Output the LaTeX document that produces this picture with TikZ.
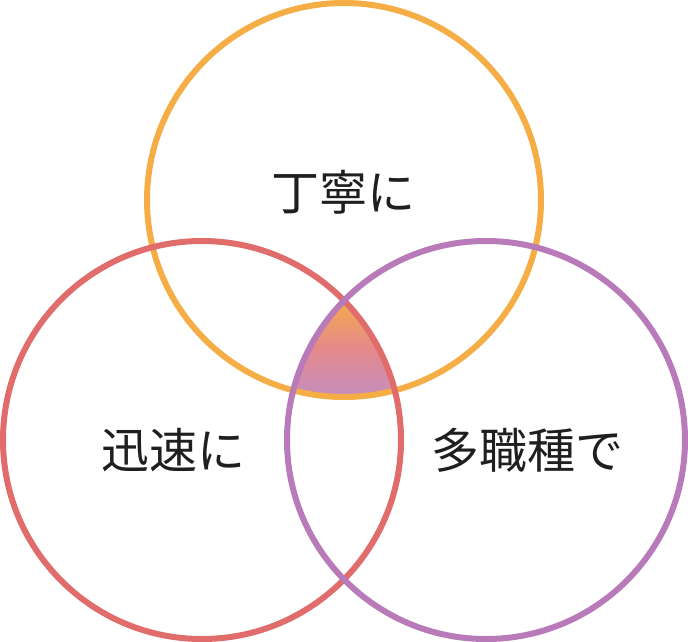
\documentclass[tikz,border=0pt]{standalone}
\usepackage{fontspec}
\newfontfamily\cjk{Noto Sans CJK JP}
\definecolor{corange}{HTML}{F5AE45}
\definecolor{cred}{HTML}{E06C6C}
\definecolor{cpurple}{HTML}{B87AB8}
\begin{document}
\begin{tikzpicture}[x=1pt,y=-1pt,
  ring/.style={line width=6pt},
  lbl/.style={font=\cjk\fontsize{48}{54}\selectfont,text=black!88}]
\useasboundingbox (0,0) rectangle (688,642);
\coordinate (ct) at (344,200);
\coordinate (cl) at (202,440);
\coordinate (cr) at (486,440);
\begin{scope}
  \clip (ct) circle (197);
  \clip (cl) circle (199);
  \clip (cr) circle (199);
  \shade[top color=corange, bottom color=cpurple!85, middle color=cred!80] (280,295) rectangle (410,400);
\end{scope}
\draw[ring,draw=corange] (ct) circle (197);
\draw[ring,draw=cred] (cl) circle (199);
\draw[ring,draw=cpurple] (cr) circle (199);
\node[lbl] (t) at (343,192) {丁寧に};
\node[lbl] (l) at (173,450) {迅速に};
\node[lbl] (r) at (527,450) {多職種で};
\end{tikzpicture}
\end{document}
